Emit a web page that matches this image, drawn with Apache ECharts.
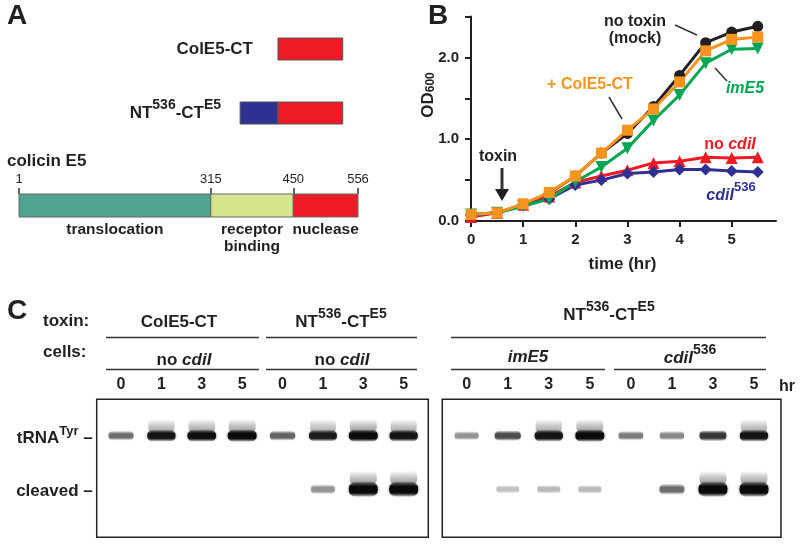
<!DOCTYPE html>
<html><head><meta charset="utf-8">
<script src="https://cdn.jsdelivr.net/npm/echarts@6/dist/echarts.min.js"></script>
<style>html,body{margin:0;padding:0;background:#fff}#c{width:800px;height:544px}</style>
</head><body><div id="c"></div>
<script>
// ---------- Panel B: growth curves ----------
const times    = [0, 0.5, 1, 1.5, 2, 2.5, 3, 3.5, 4, 4.5, 5, 5.5];
const noToxin  = [0.08, 0.10, 0.20, 0.34, 0.55, 0.83, 1.07, 1.40, 1.78, 2.18, 2.31, 2.38];
const colE5CT  = [0.08, 0.10, 0.21, 0.35, 0.55, 0.83, 1.11, 1.37, 1.70, 2.08, 2.22, 2.25];
const imE5     = [0.08, 0.10, 0.18, 0.27, 0.48, 0.66, 0.89, 1.23, 1.54, 1.93, 2.10, 2.11];
const noCdiI   = [0.05, 0.10, 0.20, 0.30, 0.47, 0.55, 0.62, 0.71, 0.73, 0.78, 0.77, 0.78];
const cdiI536  = [0.07, 0.10, 0.20, 0.27, 0.44, 0.50, 0.58, 0.60, 0.63, 0.63, 0.61, 0.60];
const odTicks   = [0, 0.5, 1, 1.5, 2, 2.5];
const odLabels  = [0, 1, 2];
const timeTicks = [0, 1, 2, 3, 4, 5];

// ---------- Panel A: domain diagram ----------
const domainNames   = ['translocation', 'receptor\nbinding', 'nuclease'];
const domainBounds  = [1, 315, 450, 556];
const constructNames = ['ColE5-CT', '{m|NT}{sup|536}{m|-CT}{sup|E5}'];
const constructSegments = [[450, 556, 0, 2], [388, 450, 1, 3], [450, 556, 1, 2]]; // start, end, row, colour
const domainColors = ['#4ea48f', '#d6e48b', '#ed1c24', '#2e3192'];

// ---------- Panel C: northern blot ----------
const laneHours   = ['0', '1', '3', '5', '0', '1', '3', '5'];
const bandNames   = ['cleaved', 'tRNA'];
const gel1tRNA    = [0.45, 0.90, 0.95, 1.00, 0.50, 0.85, 1.00, 0.90];
const gel1Cleaved = [0, 0, 0, 0, 0, 0.30, 1.00, 1.00];
const gel2tRNA    = [0.30, 0.60, 0.90, 1.00, 0.40, 0.35, 0.70, 0.90];
const gel2Cleaved = [0, 0.12, 0.15, 0.15, 0, 0.45, 1.00, 1.00];

const FF = 'Liberation Sans, Arial, sans-serif';
const chart = echarts.init(document.getElementById('c'));

function richSet(size, supSize, fill) {
  return {
    m:   {fontFamily: FF, fontWeight: 'bold', fontSize: size, fill: fill, lineHeight: size + 7, verticalAlign: 'bottom'},
    it:  {fontFamily: FF, fontWeight: 'bold', fontStyle: 'italic', fontSize: size, fill: fill, lineHeight: size + 7, verticalAlign: 'bottom'},
    sup: {fontFamily: FF, fontWeight: 'bold', fontSize: supSize, fill: fill, lineHeight: supSize, verticalAlign: 'top'},
    sub: {fontFamily: FF, fontWeight: 'bold', fontSize: supSize, fill: fill, lineHeight: supSize, verticalAlign: 'bottom'}
  };
}
function txt(x, y, text, size, opts) {
  opts = opts || {};
  return {type: 'text', x: x, y: y, rotation: opts.rotation || 0, silent: true,
    style: Object.assign({text: text, fontFamily: FF, fontWeight: 'bold', fontSize: size,
      fill: opts.fill || '#231f20', align: opts.align || 'center', verticalAlign: 'middle',
      rich: opts.rich, lineHeight: opts.lineHeight, fontStyle: opts.italic ? 'italic' : 'normal'})};
}
function ln(x1, y1, x2, y2, w) {
  return {type: 'line', silent: true, shape: {x1: x1, y1: y1, x2: x2, y2: y2}, style: {stroke: '#333', lineWidth: w || 1.5}};
}

function pairs(vals) { return times.map((t, i) => [t, vals[i]]); }
function gelData(tr, cl) {
  const out = [];
  laneHours.forEach((h, i) => { out.push([i, 1, tr[i]]); out.push([i, 0, cl[i]]); });
  return out;
}
function vgrad(stops) {
  return new echarts.graphic.LinearGradient(0, 0, 0, 1, stops.map(s => ({offset: s[0], color: s[1]})));
}
function bandRender(params, api) {
  const lane = api.value(0), band = api.value(1), I = api.value(2);
  if (!(I > 0)) return null;
  const p = api.coord([lane, band]);
  const w = 22 + 7 * I;
  const h = band === 1 ? 7 + 5 * I : 7 + 8 * I;
  const a = Math.min(1, 0.12 + 0.9 * I);
  const core = 'rgba(10,10,10,' + a + ')';
  const children = [];
  if (I >= 0.85) {
    children.push({type: 'rect', shape: {x: p[0] - w / 2 + 1, y: p[1] - h / 2 - 11, width: w - 2, height: 14, r: 5},
      style: {fill: vgrad([[0, 'rgba(40,40,40,0)'], [0.5, 'rgba(40,40,40,' + (0.28 * I) + ')'], [1, 'rgba(40,40,40,' + (0.45 * I) + ')']])}});
  }
  children.push({type: 'rect', shape: {x: p[0] - w / 2, y: p[1] - h / 2, width: w, height: h, r: h / 2.2},
    style: {fill: vgrad([[0, 'rgba(10,10,10,' + (a * 0.15) + ')'], [0.3, core], [0.72, core], [1, 'rgba(10,10,10,' + (a * 0.1) + ')']]),
      shadowBlur: 3, shadowColor: 'rgba(10,10,10,' + (a * 0.5) + ')'}});
  return {type: 'group', children: children};
}

function lineSeries(name, vals, color, symbol, size, rot) {
  return {type: 'line', name: name, xAxisIndex: 2, yAxisIndex: 2, data: pairs(vals),
    symbol: symbol, symbolSize: size, symbolRotate: rot || 0, showAllSymbol: true,
    lineStyle: {width: 3, color: color}, itemStyle: {color: color}, z: 5};
}

const hidden = {show: false};
const laneLabel = {customValues: [0,1,2,3,4,5,6,7], formatter: v => laneHours[Math.round(v)], margin: 7,
  fontSize: 16, fontWeight: 'bold', color: '#231f20', fontFamily: FF};
const option = {
  animation: false,
  backgroundColor: '#fff',
  textStyle: {fontFamily: FF},
  grid: [
    {left: 19, top: 17, width: 339, height: 128},          // A constructs
    {left: 19, top: 194, width: 339, height: 23},          // A domains
    {left: 469, top: 16.5, width: 307, height: 204.5},     // B
    {left: 96.7, top: 399.3, width: 331.6, height: 138, show: true, borderColor: '#222', borderWidth: 1.5, backgroundColor: '#fff'},
    {left: 442.3, top: 399.3, width: 338.7, height: 138, show: true, borderColor: '#222', borderWidth: 1.5, backgroundColor: '#fff'}
  ],
  xAxis: [
    {gridIndex: 0, type: 'value', min: 26, max: 581, show: false},
    {gridIndex: 1, type: 'value', min: 1, max: 556, position: 'top',
      axisLine: hidden, splitLine: hidden,
      axisTick: {show: true, customValues: domainBounds, length: 6, lineStyle: {color: '#333', width: 1.5}},
      axisLabel: {customValues: domainBounds, margin: 8, fontSize: 13, color: '#231f20', fontFamily: FF}},
    {gridIndex: 2, type: 'value', min: -0.04, max: 5.85, splitLine: hidden,
      axisLine: {lineStyle: {color: '#231f20', width: 2}},
      axisTick: {customValues: timeTicks, length: 6, lineStyle: {color: '#231f20', width: 2}},
      axisLabel: {customValues: timeTicks, margin: 11, fontSize: 15, fontWeight: 'bold', color: '#231f20', fontFamily: FF},
      name: 'time (hr)', nameLocation: 'middle', nameGap: 35,
      nameTextStyle: {fontSize: 17, fontWeight: 'bold', color: '#231f20', fontFamily: FF}},
    {gridIndex: 3, type: 'value', min: -0.603, max: 7.61, position: 'top', splitLine: hidden,
      axisLine: hidden, axisTick: hidden, axisLabel: laneLabel},
    {gridIndex: 4, type: 'value', min: -0.595, max: 7.658, position: 'top', splitLine: hidden,
      axisLine: hidden, axisTick: hidden, axisLabel: laneLabel}
  ],
  yAxis: [
    {gridIndex: 0, type: 'category', data: constructNames, inverse: true, show: false},
    {gridIndex: 1, type: 'category', data: ['colicin E5'], show: false},
    {gridIndex: 2, type: 'value', min: 0, max: 2.5, splitLine: hidden,
      axisLine: {show: true, lineStyle: {color: '#231f20', width: 2}},
      axisTick: {show: true, customValues: odTicks, length: 6, lineStyle: {color: '#231f20', width: 2}},
      axisLabel: {customValues: odLabels, formatter: v => Number(v).toFixed(1), margin: 10, fontSize: 15, fontWeight: 'bold', color: '#231f20', fontFamily: FF}},
    {gridIndex: 3, type: 'value', min: -0.896, max: 1.679, splitLine: hidden, axisLine: hidden, axisTick: hidden,
      axisLabel: {customValues: [0, 1], margin: 4,
        formatter: v => Math.round(v) === 1 ? '{m|tRNA}{sup|Tyr}{m| –}' : '{m|cleaved –}',
        rich: {
          m: {fontSize: 17, fontWeight: 'bold', color: '#231f20', fontFamily: FF, lineHeight: 22, verticalAlign: 'bottom'},
          sup: {fontSize: 13, fontWeight: 'bold', color: '#231f20', fontFamily: FF, lineHeight: 13, verticalAlign: 'top'}
        }}},
    {gridIndex: 4, type: 'value', min: -0.896, max: 1.679, show: false}
  ],
  series: [
    {type: 'custom', xAxisIndex: 0, yAxisIndex: 0, data: constructSegments, encode: {x: [0, 1], y: 2},
      renderItem: function (params, api) {
        const s = api.value(0), e = api.value(1), r = api.value(2), c = api.value(3);
        const p0 = api.coord([s, r]), p1 = api.coord([e, r]);
        const h = 22;
        const children = [{type: 'rect', shape: {x: p0[0], y: p0[1] - h / 2, width: p1[0] - p0[0], height: h},
          style: {fill: domainColors[c], stroke: '#555', lineWidth: 1}}];
        const idx = params.dataIndex;
        if (idx === 0 || constructSegments[idx - 1][2] !== r) {
          children.push({type: 'text', x: p0[0] - (r === 1 ? 19 : 25), y: p0[1] + (r === 1 ? -3 : 0),
            style: {text: constructNames[r], fontFamily: FF, fontWeight: 'bold', fontSize: 17, fill: '#231f20',
              align: 'right', verticalAlign: 'middle', rich: richSet(17, 14, '#231f20')}});
        }
        return {type: 'group', children: children};
      }},
    {type: 'custom', xAxisIndex: 1, yAxisIndex: 1,
      data: domainNames.map((n, i) => [domainBounds[i], domainBounds[i + 1], 0, i]), encode: {x: [0, 1], y: 2},
      renderItem: function (params, api) {
        const s = api.value(0), e = api.value(1), c = api.value(3);
        const p0 = api.coord([s, 0]), p1 = api.coord([e, 0]);
        const h = api.size([0, 1])[1];
        return {type: 'group', children: [
          {type: 'rect', shape: {x: p0[0], y: p0[1] - h / 2, width: p1[0] - p0[0], height: h},
            style: {fill: domainColors[c], stroke: '#666', lineWidth: 1}},
          {type: 'text', x: (p0[0] + p1[0]) / 2, y: p0[1] + h / 2 + 4,
            style: {text: domainNames[c], fontFamily: FF, fontWeight: 'bold', fontSize: 15.5, fill: '#231f20',
              align: 'center', verticalAlign: 'top', lineHeight: 17}}
        ]};
      }},
    lineSeries('no toxin (mock)', noToxin, '#231f20', 'circle', 11),
    lineSeries('no cdiI', noCdiI, '#ed1c24', 'triangle', 12),
    lineSeries('cdiI536', cdiI536, '#2e3192', 'diamond', 12),
    lineSeries('imE5', imE5, '#00a651', 'triangle', 12, 180),
    lineSeries('+ ColE5-CT', colE5CT, '#f7941d', 'rect', 11),
    {type: 'custom', xAxisIndex: 3, yAxisIndex: 3, data: gelData(gel1tRNA, gel1Cleaved), encode: {x: 0, y: 1}, renderItem: bandRender},
    {type: 'custom', xAxisIndex: 4, yAxisIndex: 4, data: gelData(gel2tRNA, gel2Cleaved), encode: {x: 0, y: 1}, renderItem: bandRender}
  ],
  graphic: [
    txt(7, 16, 'A', 28, {align: 'left'}),
    txt(428, 16, 'B', 28, {align: 'left'}),
    txt(7, 311, 'C', 28, {align: 'left'}),
    txt(7, 161, 'colicin E5', 17, {align: 'left'}),
    // panel B y-axis title
    txt(425, 95, '{m|OD}{sub|600}', 17, {rotation: Math.PI / 2, rich: richSet(17, 12, '#231f20')}),
    // panel B annotations
    txt(635, 30, 'no toxin\n(mock)', 16, {lineHeight: 17}),
    ln(675, 25, 697, 35),
    txt(590, 85, '+ ColE5-CT', 16, {fill: '#f7941d'}),
    ln(609, 97, 622, 119),
    txt(745, 89, 'imE5', 16, {fill: '#00a651', italic: true}),
    ln(715, 68, 727, 81),
    txt(730, 141, '{m|no }{it|cdiI}', 16, {rich: richSet(16, 13, '#ed1c24')}),
    txt(731, 192, '{it|cdiI}{sup|536}', 16, {rich: richSet(16, 13, '#2e3192')}),
    txt(498, 157, 'toxin', 16),
    ln(502, 168, 502, 192, 3),
    {type: 'polygon', silent: true, shape: {points: [[495, 189], [509, 189], [502, 201]]}, style: {fill: '#231f20'}},
    // panel C headers
    txt(43, 321, 'toxin:', 17, {align: 'left'}),
    txt(43, 352, 'cells:', 17, {align: 'left'}),
    txt(179, 322, 'ColE5-CT', 17),
    txt(341, 319, '{m|NT}{sup|536}{m|-CT}{sup|E5}', 17, {rich: richSet(17, 14, '#231f20')}),
    txt(609, 312, '{m|NT}{sup|536}{m|-CT}{sup|E5}', 17, {rich: richSet(17, 14, '#231f20')}),
    ln(106, 337.5, 259, 337.5), ln(266, 337.5, 417, 337.5), ln(451, 337.5, 766, 337.5),
    txt(184, 357, '{m|no }{it|cdiI}', 17, {rich: richSet(17, 14, '#231f20')}),
    txt(342, 357, '{m|no }{it|cdiI}', 17, {rich: richSet(17, 14, '#231f20')}),
    txt(528, 357, 'imE5', 17, {italic: true}),
    txt(690, 355, '{it|cdiI}{sup|536}', 17, {rich: richSet(17, 14, '#231f20')}),
    ln(106, 369.5, 259, 369.5), ln(266, 369.5, 417, 369.5), ln(451, 369.5, 605, 369.5), ln(614, 369.5, 766, 369.5),
    txt(787, 387, 'hr', 16)
  ]
};
chart.setOption(option);
</script>
</body></html>
